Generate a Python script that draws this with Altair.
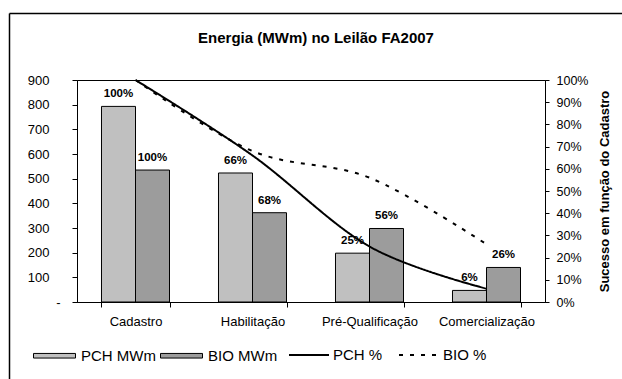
import altair as alt
import pandas as pd

# Stages of the FA2007 auction and energy (MWm) per source
categories = ["Cadastro", "Habilitação", "Pré-Qualificação", "Comercialização"]
pch_mwm = [793, 523, 198, 47]
bio_mwm = [535, 362, 298, 140]
# Success relative to the registration stage (%)
pch_pct = [100, 66, 25, 6]
bio_pct = [100, 68, 56, 26]

bar_series = ["PCH MWm", "BIO MWm"]
line_series = ["PCH %", "BIO %"]

rows = []
for i, cat in enumerate(categories):
    rows.append({"etapa": cat, "serie": bar_series[0], "mwm": pch_mwm[i],
                 "linha": line_series[0], "pct": pch_pct[i] / 100,
                 "rotulo": f"{pch_pct[i]}%"})
    rows.append({"etapa": cat, "serie": bar_series[1], "mwm": bio_mwm[i],
                 "linha": line_series[1], "pct": bio_pct[i] / 100,
                 "rotulo": f"{bio_pct[i]}%"})
df = pd.DataFrame(rows)

FONT = "Liberation Sans"
W, H = 468, 222

x_enc = alt.X(
    "etapa:N", sort=categories, title=None,
    scale=alt.Scale(paddingInner=0.4188, paddingOuter=0.2094),
    axis=alt.Axis(labelAngle=0, tickBand="extent", tickSize=5, labelPadding=8,
                  labelFontSize=13, domainColor="black", tickColor="black"),
)
x_off = alt.XOffset("serie:N", sort=bar_series, scale=alt.Scale(paddingInner=0, paddingOuter=0))
y_left = alt.Y(
    "mwm:Q", title=None, scale=alt.Scale(domain=[0, 900], nice=False),
    axis=alt.Axis(
        values=list(range(0, 901, 100)), tickSize=5,
        # accounting-style zero: a dash sitting a little closer to the axis
        labelPadding={"condition": {"test": "datum.value == 0", "value": 12}, "value": 23},
        labelFontSize=13, labelExpr="datum.value == 0 ? '-' : datum.label",
        labelOverlap=False, grid=False, domainColor="black", tickColor="black",
    ),
)

bars = alt.Chart(df).mark_bar(stroke="black", strokeWidth=1).encode(
    x=x_enc,
    xOffset=x_off,
    y=y_left,
    color=alt.Color(
        "serie:N", sort=bar_series,
        scale=alt.Scale(domain=bar_series, range=["#c0c0c0", "#9c9c9c"]),
        legend=alt.Legend(
            title=None, orient="none", legendX=-44, legendY=254, direction="horizontal",
            symbolType="M-1,-0.11H1V0.11H-1Z", symbolSize=1764,
            symbolStrokeColor="black", symbolStrokeWidth=1, labelOffset=5,
            columnPadding=2, labelFontSize=15, padding=0,
        ),
    ),
)

# Percentage labels above each bar
labels = alt.Chart(df).mark_text(
    font=FONT, fontSize=11.5, fontWeight="bold", dy=-12, baseline="middle", color="black"
).encode(
    x=x_enc,
    xOffset=x_off,
    y=y_left,
    text="rotulo:N",
)

frame_data = pd.DataFrame({"k": [0]})
frame_left = alt.Chart(frame_data).mark_rule(color="black", strokeWidth=1.5).encode(
    x=alt.value(-67.5), y=alt.value(-66.5), y2=alt.value(310)
)
frame_top = alt.Chart(frame_data).mark_rule(color="black", strokeWidth=1.5).encode(
    x=alt.value(-67.5), x2=alt.value(560), y=alt.value(-66.5)
)

left = alt.layer(bars, labels, frame_left, frame_top)

lines = alt.Chart(df).mark_line(
    color="black", strokeWidth=2, interpolate="cardinal", tension=0
).encode(
    x=alt.X("etapa:N", sort=categories),
    y=alt.Y(
        "pct:Q", title="Sucesso em função do Cadastro",
        scale=alt.Scale(domain=[0, 1], nice=False),
        axis=alt.Axis(
            orient="right", values=[i / 10 for i in range(11)], format=".0%",
            tickSize=4, labelPadding=7, labelFontSize=12.5, grid=False,
            labelOverlap=False, domainColor="black", tickColor="black",
            titleFontSize=13, titleFontWeight="bold", titleAngle=270,
            titleX=59, titleY=111, titleAlign="center", titleBaseline="middle",
        ),
    ),
    strokeDash=alt.StrokeDash(
        "linha:N", sort=line_series,
        scale=alt.Scale(domain=line_series, range=[[1, 0], [4, 7]]),
        legend=alt.Legend(
            title=None, orient="none", legendX=211, legendY=254, direction="horizontal",
            symbolType="stroke", symbolSize=1600, symbolStrokeColor="black",
            symbolStrokeWidth=2, labelOffset=3, columnPadding=12,
            labelFontSize=15, padding=0,
        ),
    ),
    detail="linha:N",
)

chart = alt.layer(left, lines).resolve_scale(
    y="independent", color="independent", strokeDash="independent"
).properties(
    width=W, height=H,
    title=alt.Title("Energia (MWm) no Leilão FA2007", fontSize=15, fontWeight="bold",
                    font=FONT, anchor="middle", frame="group", offset=-33, dx=5,
                    color="black"),
    autosize=alt.AutoSizeParams(type="none"),
    padding={"left": 77, "top": 80, "right": 77, "bottom": 77},
).configure(
    font=FONT,
).configure_axis(
    labelFont=FONT, titleFont=FONT, labelColor="black", titleColor="black",
).configure_legend(
    labelFont=FONT, labelColor="black",
).configure_view(
    stroke="black", strokeWidth=1,
)

chart.save("out.html", embed_options={"renderer": "svg", "actions": False})
